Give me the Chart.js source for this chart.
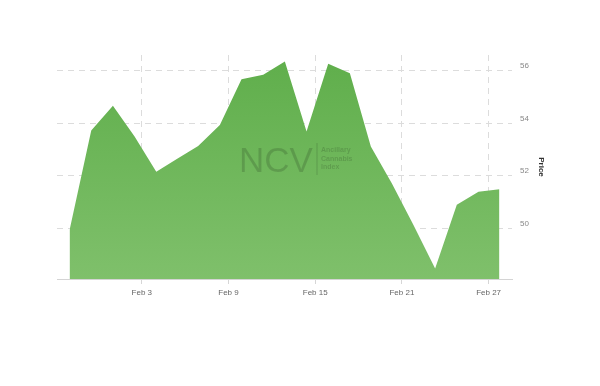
<!DOCTYPE html>
<html>
<head>
<meta charset="utf-8">
<script src="https://cdn.jsdelivr.net/npm/chart.js@4.4.1/dist/chart.umd.min.js"></script>
<style>
  html, body { margin: 0; padding: 0; background: #fff; }
  #wrap { width: 600px; height: 386px; }
</style>
</head>
<body>
<div id="wrap"><canvas id="myChart" width="600" height="386"></canvas></div>
<script>
// day of February for each point (Jan 29 = -2)
var days = [-2, -0.5, 1, 2.5, 4, 5.45, 6.9, 8.4, 9.9, 11.4, 12.9, 14.4, 15.9, 17.4, 18.85, 20.3, 21.8, 23.3, 24.8, 26.3, 27.75];
var price = [49.94, 53.73, 54.67, 53.50, 52.16, 52.65, 53.14, 53.94, 55.68, 55.85, 56.35, 53.69, 56.27, 55.91, 53.12, 51.72, 50.13, 48.48, 50.90, 51.40, 51.49];
var xTicks = [3, 9, 15, 21, 27];
var yTicks = [50, 52, 54, 56];

var points = [];
for (var i = 0; i < days.length; i++) {
  points.push({x: days[i], y: price[i]});
}

// index watermark on top of the area
var watermark = {
  id: 'watermark',
  afterDatasetsDraw: function(chart) {
    var ctx = chart.ctx;
    ctx.save();
    ctx.fillStyle = 'rgba(0,0,0,0.15)';
    ctx.textBaseline = 'alphabetic';
    ctx.font = '35px "Liberation Sans", Arial, sans-serif';
    ctx.fillText('NCV', 239, 172);
    ctx.fillRect(316.5, 143, 1, 32);
    ctx.font = 'bold 7px "Liberation Sans", Arial, sans-serif';
    ctx.fillText('Ancillary', 321, 152);
    ctx.fillText('Cannabis', 321, 160.5);
    ctx.fillText('Index', 321, 169);
    ctx.restore();
  }
};

var ctx = document.getElementById("myChart");
var myChart = new Chart(ctx, {
  type: 'line',
  data: {
    datasets: [{
      data: points,
      label: "Price",
      tension: 0,
      pointRadius: 0,
      borderWidth: 0,
      borderColor: "#66b152",
      backgroundColor: function(c) {
        var ca = c.chart.chartArea;
        if (!ca) return "#6eb85a";
        var g = c.chart.ctx.createLinearGradient(0, ca.top, 0, ca.bottom);
        g.addColorStop(0, "#5fae4b");
        g.addColorStop(1, "#7fc06b");
        return g;
      },
      fill: 'start'
    }]
  },
  options: {
    responsive: false,
    animation: false,
    layout: { padding: { left: 57, top: 55, right: 50, bottom: 85 } },
    plugins: { legend: { display: false }, tooltip: { enabled: false } },
    scales: {
      x: {
        type: 'linear',
        min: -2.87,
        max: 28.62,
        afterBuildTicks: function(scale) {
          scale.ticks = xTicks.map(function(v) { return {value: v}; });
        },
        afterFit: function(scale) { scale.height = 22; },
        grid: {
          color: '#dcdcdc',
          tickColor: '#d6d6d6',
          tickLength: 5,
          tickBorderDash: []
        },
        border: { display: true, color: '#d4d4d4', dash: [6, 5] },
        ticks: {
          color: '#666',
          padding: 4,
          maxRotation: 0,
          autoSkip: false,
          font: { family: '"Liberation Sans", Arial, sans-serif', size: 8 },
          callback: function(v) { return 'Feb ' + v; }
        }
      },
      y: {
        position: 'right',
        min: 48.08,
        max: 56.6,
        bounds: 'data',
        afterBuildTicks: function(scale) {
          scale.ticks = yTicks.map(function(v) { return {value: v}; });
        },
        afterFit: function(scale) { scale.width = 38; },
        grid: { color: '#dcdcdc', drawTicks: false },
        border: { display: false, dash: [6, 5] },
        ticks: {
          color: '#888',
          padding: 8,
          labelOffset: -5,
          font: { family: '"Liberation Sans", Arial, sans-serif', size: 8 }
        },
        title: {
          display: true,
          text: 'Price',
          color: '#333',
          padding: 4,
          font: { family: '"Liberation Sans", Arial, sans-serif', size: 8, weight: 'bold' }
        }
      }
    }
  },
  plugins: [watermark]
});
</script>
</body>
</html>
